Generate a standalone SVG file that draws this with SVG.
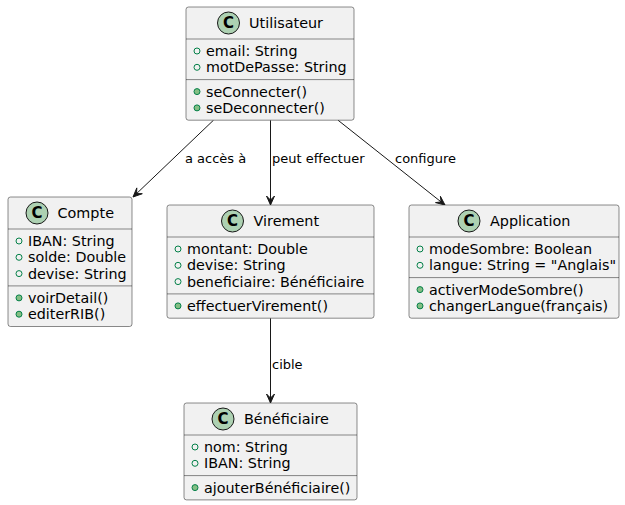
<svg xmlns="http://www.w3.org/2000/svg" width="625" height="505" viewBox="0 0 625 505">
  <style>
    .box { fill: #F1F1F1; stroke: #181818; stroke-width: 0.5; }
    .sep { stroke: #181818; stroke-width: 0.5; }
    .badge { fill: #ADD1B2; stroke: #181818; stroke-width: 1; }
    .badge-t { font-family: "DejaVu Sans", sans-serif; font-size: 15px; font-weight: bold; fill: #000; text-anchor: middle; }
    .name { font-family: "DejaVu Sans", sans-serif; font-size: 14.4px; fill: #000; }
    .mem { font-family: "DejaVu Sans", sans-serif; font-size: 14.3px; fill: #000; }
    .fld { fill: none; stroke: #038048; stroke-width: 1; }
    .mth { fill: #84BE84; stroke: #038048; stroke-width: 1; }
    .edge { stroke: #181818; stroke-width: 1; fill: none; }
    .head { fill: #181818; stroke: #181818; stroke-width: 1; }
    .lbl { font-family: "DejaVu Sans", sans-serif; font-size: 13px; fill: #000; }
  </style>

  <g id="connectors">
    <g id="utilisateur-compte">
      <path class="edge" d="M213.5,120.2 L133,197"/>
      <polygon class="head" points="133,197 142.3,193.7 136.6,193.6 136.8,187.9"/>
      <text class="lbl" x="185" y="163">a accès à</text>
    </g>
    <g id="utilisateur-virement">
      <path class="edge" d="M270.5,120.2 L270.5,204"/>
      <polygon class="head" points="270.5,205 274.5,196 270.5,200 266.5,196"/>
      <text class="lbl" x="272" y="163">peut effectuer</text>
    </g>
    <g id="utilisateur-application">
      <path class="edge" d="M338,120.2 L445,205"/>
      <polygon class="head" points="445,205 435.5,202.6 441.1,201.9 440.4,196.3"/>
      <text class="lbl" x="395" y="163">configure</text>
    </g>
    <g id="virement-beneficiaire">
      <path class="edge" d="M270.5,318.2 L270.5,402"/>
      <polygon class="head" points="270.5,403 274.5,394 270.5,398 266.5,394"/>
      <text class="lbl" x="272" y="369">cible</text>
    </g>
  </g>

  <g id="Utilisateur">
    <rect class="box" x="186" y="7" width="168" height="113.2" rx="2.5" ry="2.5"/>
    <circle class="badge" cx="228.5" cy="23" r="11"/>
    <text class="badge-t" x="228.5" y="28.3">C</text>
    <text class="name" x="249" y="28">Utilisateur</text>
    <line class="sep" x1="186" y1="39" x2="354" y2="39"/>
    <circle class="fld" cx="197" cy="51" r="3"/>
    <text class="mem" x="206" y="56">email: String</text>
    <circle class="fld" cx="197" cy="67.3" r="3"/>
    <text class="mem" x="206" y="72.3">motDePasse: String</text>
    <line class="sep" x1="186" y1="79.6" x2="354" y2="79.6"/>
    <circle class="mth" cx="197" cy="91.6" r="3"/>
    <text class="mem" x="206" y="96.6">seConnecter()</text>
    <circle class="mth" cx="197" cy="107.9" r="3"/>
    <text class="mem" x="206" y="112.9">seDeconnecter()</text>
  </g>

  <g id="Compte">
    <rect class="box" x="8" y="197" width="124" height="129.5" rx="2.5" ry="2.5"/>
    <circle class="badge" cx="37" cy="213" r="11"/>
    <text class="badge-t" x="37" y="218.3">C</text>
    <text class="name" x="57.5" y="218">Compte</text>
    <line class="sep" x1="8" y1="229" x2="132" y2="229"/>
    <circle class="fld" cx="19" cy="241" r="3"/>
    <text class="mem" x="28" y="246">IBAN: String</text>
    <circle class="fld" cx="19" cy="257.3" r="3"/>
    <text class="mem" x="28" y="262.3">solde: Double</text>
    <circle class="fld" cx="19" cy="273.6" r="3"/>
    <text class="mem" x="28" y="278.6">devise: String</text>
    <line class="sep" x1="8" y1="285.9" x2="132" y2="285.9"/>
    <circle class="mth" cx="19" cy="297.9" r="3"/>
    <text class="mem" x="28" y="302.9">voirDetail()</text>
    <circle class="mth" cx="19" cy="314.2" r="3"/>
    <text class="mem" x="28" y="319.2">editerRIB()</text>
  </g>

  <g id="Virement">
    <rect class="box" x="167" y="205" width="207" height="113.2" rx="2.5" ry="2.5"/>
    <circle class="badge" cx="232.5" cy="221" r="11"/>
    <text class="badge-t" x="232.5" y="226.3">C</text>
    <text class="name" x="253.5" y="226">Virement</text>
    <line class="sep" x1="167" y1="237" x2="374" y2="237"/>
    <circle class="fld" cx="178" cy="249" r="3"/>
    <text class="mem" x="187" y="254">montant: Double</text>
    <circle class="fld" cx="178" cy="265.3" r="3"/>
    <text class="mem" x="187" y="270.3">devise: String</text>
    <circle class="fld" cx="178" cy="281.6" r="3"/>
    <text class="mem" x="187" y="286.6">beneficiaire: Bénéficiaire</text>
    <line class="sep" x1="167" y1="293.9" x2="374" y2="293.9"/>
    <circle class="mth" cx="178" cy="305.9" r="3"/>
    <text class="mem" x="187" y="310.9">effectuerVirement()</text>
  </g>

  <g id="Application">
    <rect class="box" x="409" y="205" width="210" height="113.2" rx="2.5" ry="2.5"/>
    <circle class="badge" cx="469" cy="221" r="11"/>
    <text class="badge-t" x="469" y="226.3">C</text>
    <text class="name" x="490" y="226">Application</text>
    <line class="sep" x1="409" y1="237" x2="619" y2="237"/>
    <circle class="fld" cx="420" cy="249" r="3"/>
    <text class="mem" x="429" y="254">modeSombre: Boolean</text>
    <circle class="fld" cx="420" cy="265.3" r="3"/>
    <text class="mem" x="429" y="270.3">langue: String = "Anglais"</text>
    <line class="sep" x1="409" y1="277.6" x2="619" y2="277.6"/>
    <circle class="mth" cx="420" cy="289.6" r="3"/>
    <text class="mem" x="429" y="294.6">activerModeSombre()</text>
    <circle class="mth" cx="420" cy="305.9" r="3"/>
    <text class="mem" x="429" y="310.9">changerLangue(français)</text>
  </g>

  <g id="Beneficiaire">
    <rect class="box" x="184" y="403" width="173" height="96.9" rx="2.5" ry="2.5"/>
    <circle class="badge" cx="223" cy="419" r="11"/>
    <text class="badge-t" x="223" y="424.3">C</text>
    <text class="name" x="244" y="424">Bénéficiaire</text>
    <line class="sep" x1="184" y1="435" x2="357" y2="435"/>
    <circle class="fld" cx="195" cy="447" r="3"/>
    <text class="mem" x="204" y="452">nom: String</text>
    <circle class="fld" cx="195" cy="463.3" r="3"/>
    <text class="mem" x="204" y="468.3">IBAN: String</text>
    <line class="sep" x1="184" y1="475.6" x2="357" y2="475.6"/>
    <circle class="mth" cx="195" cy="487.6" r="3"/>
    <text class="mem" x="204" y="492.6">ajouterBénéficiaire()</text>
  </g>
</svg>
